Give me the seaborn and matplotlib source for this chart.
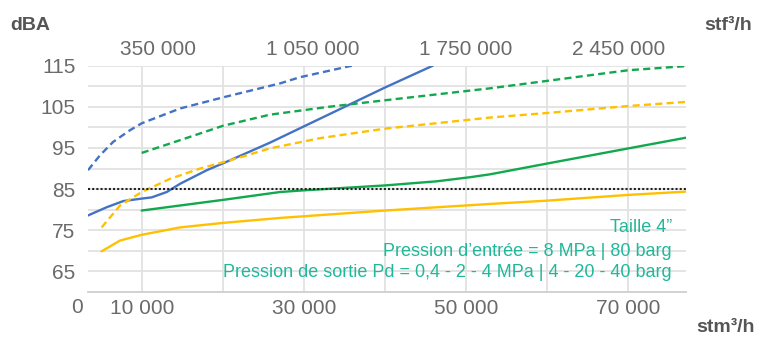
import numpy as np
import pandas as pd
import matplotlib
matplotlib.use("Agg")
import matplotlib.pyplot as plt
import seaborn as sns

# ---- data ----
blue_dash_x = [3333, 4800, 6450, 8500, 9960, 14700, 20000, 27040, 29500, 35900]
blue_dash_y = [89.6, 93.2, 96.5, 99.3, 101.0, 104.6, 107.3, 110.7, 112.2, 115.0]

blue_solid_x = [3333, 5640, 7690, 9960, 11200, 13050, 14700, 18000, 20860, 25800, 40000, 45900]
blue_solid_y = [78.6, 80.6, 82.1, 82.7, 83.0, 84.3, 86.3, 89.6, 92.0, 96.3, 109.7, 115.0]

green_dash_x = [9960, 14700, 20000, 25800, 33000, 40000, 52960, 59960, 70040, 77160]
green_dash_y = [93.8, 96.9, 100.4, 103.1, 105.0, 106.6, 109.5, 111.3, 113.9, 114.9]

green_solid_x = [9960, 20040, 27040, 29900, 40000, 46370, 50500, 52960, 59960, 70040, 77160]
green_solid_y = [79.8, 82.4, 84.3, 84.7, 85.9, 86.9, 87.9, 88.6, 91.2, 94.9, 97.5]

yellow_dash_x = [5020, 7280, 9960, 13460, 17160, 20860, 25800, 32000, 40000, 52960, 59960, 70040, 77160]
yellow_dash_y = [75.7, 81.0, 84.3, 87.5, 90.0, 92.0, 94.9, 97.4, 99.7, 102.4, 103.5, 105.2, 106.2]

yellow_solid_x = [5020, 7280, 9960, 14700, 20040, 27040, 40000, 52960, 59960, 70040, 77160]
yellow_solid_y = [69.9, 72.5, 73.9, 75.7, 76.8, 78.0, 79.8, 81.4, 82.2, 83.6, 84.4]

limit_level = 85

x_ticks = [10000, 20000, 30000, 40000, 50000, 60000, 70000]
x_labels = ["10 000", "", "30 000", "", "50 000", "", "70 000"]
top_tick_pos = [12000, 31100, 49900, 68800]
top_labels = ["350 000", "1 050 000", "1 750 000", "2 450 000"]
y_major = [65, 75, 85, 95, 105, 115]
y_minor = [70, 80, 90, 100, 110]

notes = ["Taille 4\u201d",
         "Pression d\u2019entr\u00e9e = 8 MPa | 80 barg",
         "Pression de sortie Pd = 0,4 - 2 - 4 MPa | 4 - 20 - 40 barg"]

# ---- style ----
sns.set_theme(style="white")
plt.rcParams['font.family'] = ['Liberation Sans', 'DejaVu Sans']

BLUE = "#4472C4"
GREEN = "#12A84E"
YELLOW = "#FFC000"
TEAL = "#20B89A"
TICK = "#6a6a6a"
BOLD = "#555555"
GRID = "#e2e2e2"
TS = 15

fig = plt.figure(figsize=(7.6, 3.38), dpi=100)
ax = fig.add_axes([88/760, 46/338, 598/760, 226.3/338])

series = [
    (blue_dash_x, blue_dash_y, BLUE, (0, (3.0, 1.8))),
    (blue_solid_x, blue_solid_y, BLUE, "-"),
    (green_dash_x, green_dash_y, GREEN, (0, (3.0, 1.8))),
    (green_solid_x, green_solid_y, GREEN, "-"),
    (yellow_dash_x, yellow_dash_y, YELLOW, (0, (3.0, 1.8))),
    (yellow_solid_x, yellow_solid_y, YELLOW, "-"),
]
for xs, ys, col, ls in series:
    df = pd.DataFrame({"x": xs, "y": ys})
    sns.lineplot(data=df, x="x", y="y", ax=ax, color=col, linewidth=1.7,
                 linestyle=ls, sort=False, zorder=3)

xmin, xmax = 3333, 77160
ax.plot([xmin, xmax], [limit_level, limit_level], color="#222222",
        linewidth=1.5, linestyle=(0, (1, 1)), zorder=4)

ax.set_xlim(xmin, xmax)
ax.set_ylim(60, 115)
ax.set_xlabel("")
ax.set_ylabel("")

ax.set_xticks(x_ticks)
ax.set_xticklabels(x_labels)
ax.set_yticks(y_major)
ax.set_yticklabels([str(v) for v in y_major])
ax.set_yticks(y_minor, minor=True)
ax.grid(True, which="both", color=GRID, linewidth=1.3)
ax.set_axisbelow(True)
ax.tick_params(axis="x", length=0, pad=5, labelsize=TS, labelcolor=TICK)
ax.tick_params(axis="y", which="both", length=0, pad=9, labelsize=TS, labelcolor=TICK)
for s in ["left", "right", "top"]:
    ax.spines[s].set_visible(False)
ax.spines["bottom"].set_color("#cfcfcf")
ax.spines["bottom"].set_linewidth(1.3)

ax.text(-11/598, -6/226.3, "0", transform=ax.transAxes, ha="center", va="top",
        fontsize=TS, color=TICK)

# top axis
ax2 = ax.twiny()
ax2.set_xlim(xmin, xmax)
ax2.set_xticks(top_tick_pos)
ax2.set_xticklabels(top_labels)
ax2.tick_params(axis="x", length=0, pad=5, labelsize=TS, labelcolor=TICK)
for s in ax2.spines.values():
    s.set_visible(False)
ax2.grid(False)

# notes
for txt, yc in zip(notes, [0.287, 0.181, 0.084]):
    ax.text(0.9766, yc, txt, transform=ax.transAxes, ha="right", va="center",
            fontsize=13, color=TEAL)

fig.text(10/760, 1 - 25/338, "dBA", ha="left", va="center", fontsize=14,
         fontweight="bold", color=BOLD)
fig.text(752/760, 1 - 25/338, "stf\u00b3/h", ha="right", va="center", fontsize=14,
         fontweight="bold", color=BOLD)
fig.text(755/760, 1 - 328/338, "stm\u00b3/h", ha="right", va="center", fontsize=14,
         fontweight="bold", color=BOLD)

fig.savefig("out.png", dpi=100)
